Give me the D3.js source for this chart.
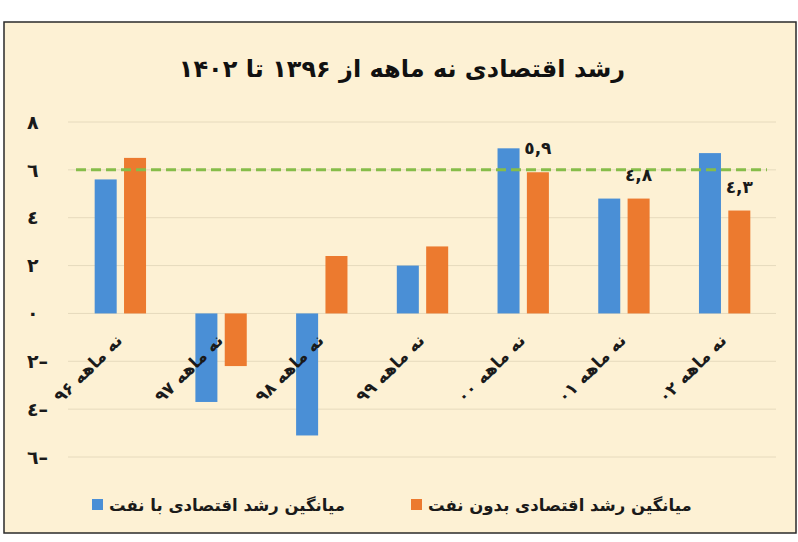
<!DOCTYPE html>
<html>
<head>
<meta charset="utf-8">
<script src="https://cdn.jsdelivr.net/npm/d3@7"></script>
<style>
  html, body { margin: 0; padding: 0; background: #ffffff; }
  svg { display: block; font-family: "DejaVu Sans", sans-serif; }
</style>
</head>
<body>
<div id="chart-container"></div>
<script>
const width = 798;
const height = 542;
const margin = { top: 122, left: 70, right: 23, bottom: 85 };

// data
const categories = ["نه ماهه ۹۶", "نه ماهه ۹۷", "نه ماهه ۹۸", "نه ماهه ۹۹", "نه ماهه ۰۰", "نه ماهه ۰۱", "نه ماهه ۰۲"];
const withOil = [5.6, -3.7, -5.1, 2.0, 6.9, 4.8, 6.7];
const withoutOil = [6.5, -2.2, 2.4, 2.8, 5.9, 4.8, 4.3];
const seriesNames = ["میانگین رشد اقتصادی با نفت", "میانگین رشد اقتصادی بدون نفت"];
const yTicks = [8, 6, 4, 2, 0, -2, -4, -6];
const yTickLabels = ["٨", "٦", "٤", "٢", "٠", "٢–", "٤–", "٦–"];
const valueLabels = [null, null, null, null, "٥,٩", "٤,٨", "٤,٣"];
const targetLine = 6;
const title = "رشد اقتصادی نه ماهه از ۱۳۹۶ تا ۱۴۰۲";

const colors = ["#4a8fd6", "#ec7a2f"];

let data = categories.map((c, i) => ({ cat: c, values: [withOil[i], withoutOil[i]], label: valueLabels[i] }));

const svg = d3.select("#chart-container").append("svg")
  .attr("width", width)
  .attr("height", height);

// frame
svg.append("rect")
  .attr("x", 4).attr("y", 22)
  .attr("width", 792).attr("height", 511)
  .attr("fill", "#fdf1d4")
  .attr("stroke", "#2a2a2a")
  .attr("stroke-width", 1.5);

//Defines the scales
const x = d3.scaleBand()
  .domain(categories)
  .range([margin.left, width - margin.right])
  .paddingInner(0.49)
  .paddingOuter(0.245);

const xSub = d3.scaleBand()
  .domain([0, 1])
  .range([0, x.bandwidth()])
  .paddingInner(0.25);

const y = d3.scaleLinear()
  .domain([-6, 8])
  .range([457, 122]);

// gridlines
let gGrid = svg.append("g");
gGrid.selectAll("line")
  .data(yTicks)
  .enter().append("line")
  .attr("x1", 68)
  .attr("x2", 776)
  .attr("y1", d => y(d))
  .attr("y2", d => y(d))
  .attr("stroke", "#e6dabd")
  .attr("stroke-width", 1);

// y labels
svg.append("g")
  .style("font", "bold 19px 'DejaVu Sans'")
  .selectAll("text")
  .data(yTicks)
  .enter().append("text")
  .attr("x", 27)
  .attr("y", d => y(d))
  .attr("dy", "0.35em")
  .attr("fill", "#1a1a1a")
  .text((d, i) => yTickLabels[i]);

// bars
let g = svg.append("g");
g.selectAll(".group")
  .data(data)
  .enter().append("g")
  .attr("class", "group")
  .attr("transform", d => `translate(${x(d.cat)},0)`)
  .selectAll("rect")
  .data(d => d.values.map((v, k) => ({ v: v, k: k })))
  .enter().append("rect")
  .attr("x", d => xSub(d.k))
  .attr("width", xSub.bandwidth())
  .attr("y", d => y(Math.max(0, d.v)))
  .attr("height", d => Math.abs(y(d.v) - y(0)))
  .attr("fill", d => colors[d.k]);

// dashed reference line
svg.append("line")
  .attr("x1", 76)
  .attr("x2", 767)
  .attr("y1", y(targetLine))
  .attr("y2", y(targetLine))
  .attr("stroke", "#86bd4a")
  .attr("stroke-width", 3)
  .attr("stroke-dasharray", "10,5");

// value labels on the orange bars
svg.append("g")
  .style("font", "bold 17px 'DejaVu Sans'")
  .selectAll("text")
  .data(data.filter(d => d.label))
  .enter().append("text")
  .attr("x", d => x(d.cat) + xSub(1) + xSub.bandwidth() / 2)
  .attr("y", d => y(d.values[1]) - 18)
  .attr("text-anchor", "middle")
  .attr("fill", "#1a1a1a")
  .text(d => d.label);

// category labels
svg.append("g")
  .style("font", "bold 17px 'DejaVu Sans'")
  .selectAll("text")
  .data(categories)
  .enter().append("text")
  .attr("transform", d => `translate(${x(d) + x.bandwidth() / 2 + 3},${y(0) + 28}) rotate(-45)`)
  .attr("text-anchor", "end")
  .attr("fill", "#1a1a1a")
  .text(d => d);

// title
svg.append("text")
  .attr("x", 402)
  .attr("y", 77)
  .attr("text-anchor", "middle")
  .style("font", "bold 24px 'DejaVu Sans'")
  .attr("fill", "#111")
  .text(title);

// legend
const legendX = [92, 411];
let gLegend = svg.append("g").style("font", "bold 16.5px 'DejaVu Sans'");
seriesNames.forEach((name, i) => {
  gLegend.append("rect")
    .attr("x", legendX[i])
    .attr("y", 499)
    .attr("width", 11)
    .attr("height", 11)
    .attr("fill", colors[i]);
  gLegend.append("text")
    .attr("x", legendX[i] + 17)
    .attr("y", 505)
    .attr("dy", "0.35em")
    .attr("fill", "#1a1a1a")
    .text(name);
});
</script>
</body>
</html>
